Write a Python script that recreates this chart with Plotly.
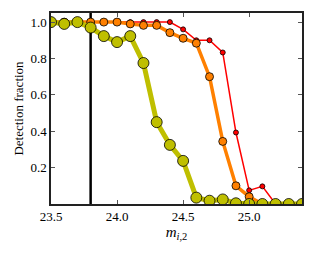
import plotly.graph_objects as go

mag = [23.5, 23.6, 23.7, 23.8, 23.9, 24.0, 24.1, 24.2, 24.3, 24.4, 24.5, 24.6,
       24.7, 24.8, 24.9, 25.0, 25.1, 25.2, 25.3, 25.4]
frac_red = [1.0, 1.0, 1.0, 1.0, 1.0, 1.0, 1.0, 1.0, 1.0, 1.0, 0.96, 0.90,
            0.90, 0.833, 0.393, 0.075, 0.097, 0.0, 0.0, 0.0]
frac_orange = [1.0, 1.0, 1.0, 1.0, 1.0, 1.0, 0.99, 0.982, 0.982, 0.942, 0.911, 0.884,
               0.70, 0.344, 0.10, 0.04, 0.0, 0.0, 0.0, 0.0]
frac_yellow = [1.0, 0.99, 1.0, 0.97, 0.923, 0.89, 0.923, 0.775, 0.45, 0.325, 0.237, 0.035,
               0.018, 0.025, 0.004, 0.0, 0.0, 0.0, 0.0, 0.0]
limit_mag = 23.8
x_ticks = [23.5, 24.0, 24.5, 25.0]
y_ticks = [0.2, 0.4, 0.6, 0.8, 1.0]

fig = go.Figure()
for ys, col, lw, ms in [(frac_red, "#ff0000", 1.5, 5),
                        (frac_orange, "#ff8000", 3.5, 8),
                        (frac_yellow, "#bfbf00", 5, 11)]:
    fig.add_trace(go.Scatter(
        x=mag, y=ys, mode="lines+markers",
        line=dict(color=col, width=lw),
        marker=dict(color=col, size=ms, line=dict(color="black", width=0.8)),
        showlegend=False, cliponaxis=True))

fig.add_shape(type="line", xref="x", yref="paper", x0=limit_mag, x1=limit_mag,
              y0=0, y1=1, line=dict(color="black", width=2.5), layer="below")

font = dict(family="Liberation Serif", size=13, color="black")
fig.update_layout(
    width=310, height=245,
    margin=dict(l=43, r=16, t=5, b=49, autoexpand=False),
    paper_bgcolor="white", plot_bgcolor="white",
    font=font,
    xaxis=dict(range=[23.5, 25.4], tickvals=x_ticks, ticktext=[f"{v:.1f}" for v in x_ticks],
               ticks="inside", ticklen=4, tickcolor="#555555", mirror="allticks",
               showline=True, linecolor="#222222", linewidth=1.5, showgrid=False,
               zeroline=False, tickfont=dict(size=13),
               title=dict(text="<i>m</i><sub><i>i</i>,2</sub>", standoff=0,
                          font=dict(size=15))),
    yaxis=dict(range=[0, 1.05], tickvals=y_ticks, ticktext=[f"{v:.1f}" for v in y_ticks],
               ticks="inside", ticklen=4, tickcolor="#555555", mirror="allticks",
               showline=True, linecolor="#222222", linewidth=1.5, showgrid=False,
               zeroline=False, tickfont=dict(size=13),
               title=dict(text="Detection fraction", standoff=4, font=dict(size=13))),
)
fig.write_html("out.html")
